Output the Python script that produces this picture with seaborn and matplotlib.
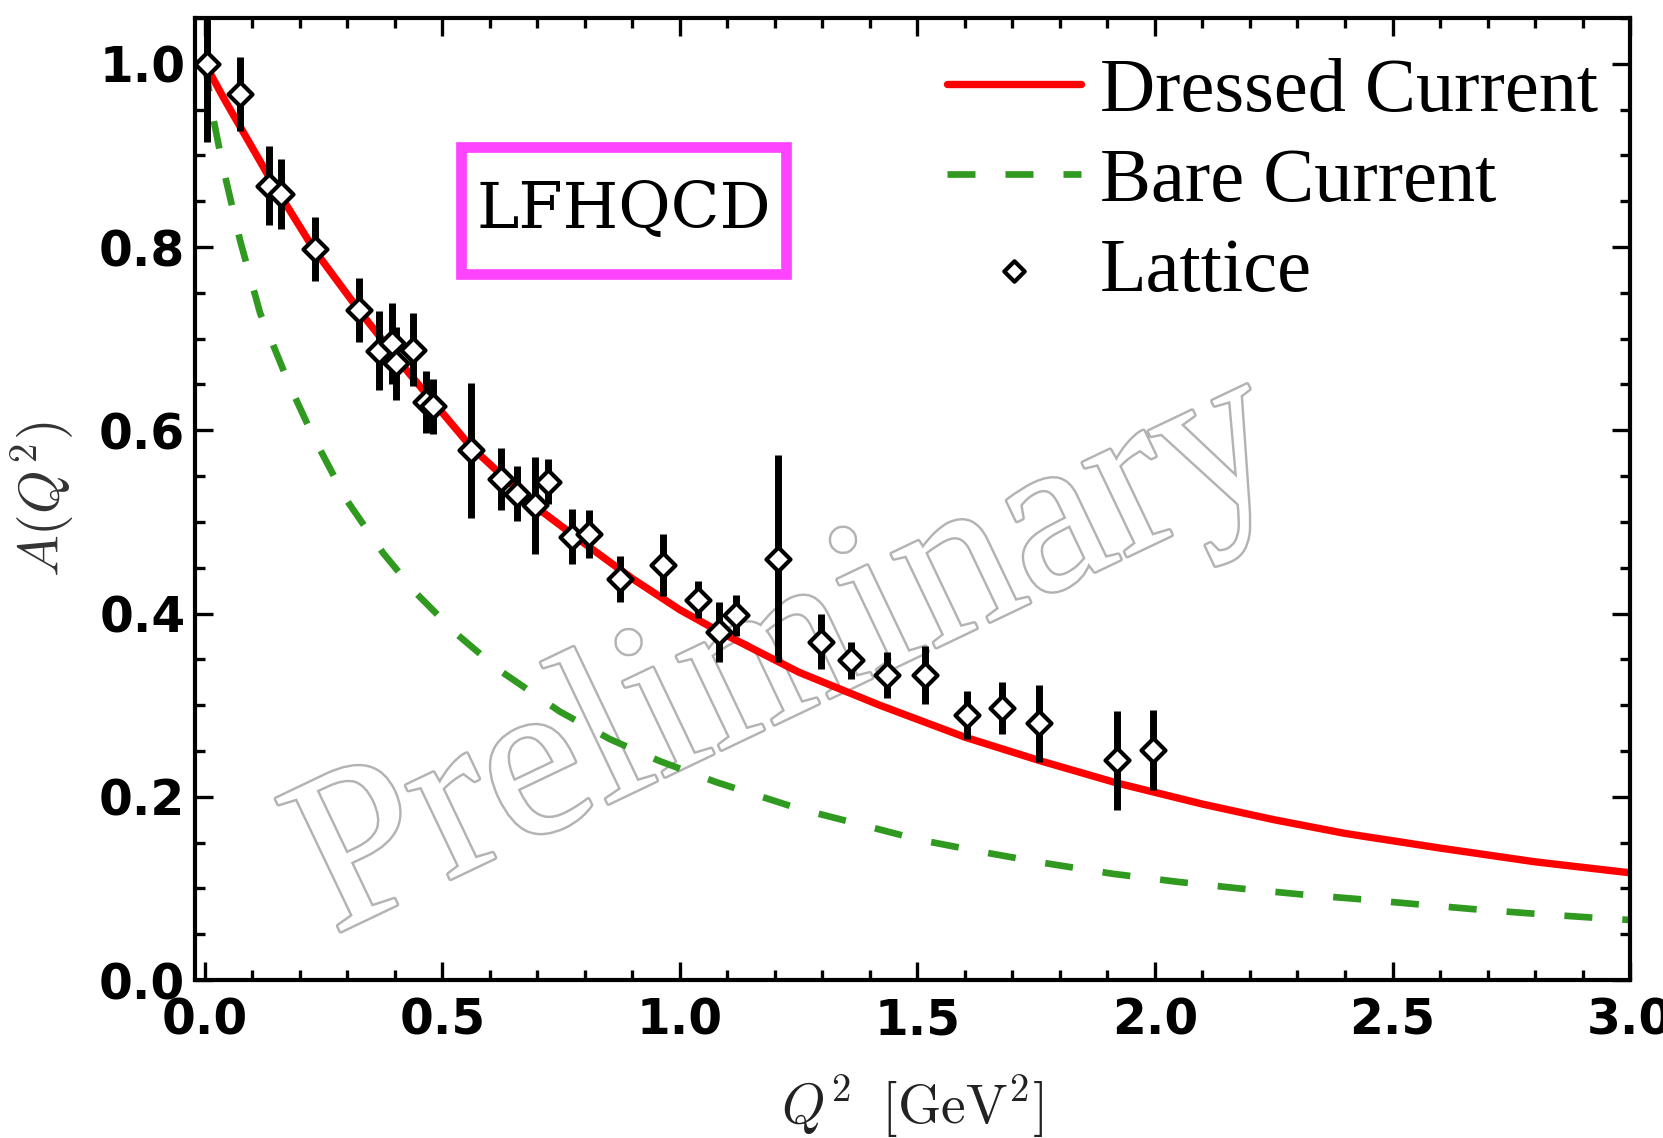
import matplotlib
matplotlib.use("Agg")
import matplotlib.pyplot as plt
import matplotlib.patheffects as pe
from matplotlib.patches import Rectangle
from matplotlib.ticker import MultipleLocator, FormatStrFormatter
import numpy as np
import pandas as pd
import seaborn as sns

# ---------------- data ----------------
dressed_q2 = [0.0, 0.04, 0.09, 0.14, 0.23, 0.33, 0.43, 0.56, 0.70, 0.80, 0.90, 1.00,
              1.08, 1.25, 1.42, 1.60, 1.76, 1.92, 2.10, 2.25, 2.40, 2.60, 2.80, 3.00]
dressed_a = [1.0, 0.962, 0.917, 0.872, 0.797, 0.727, 0.662, 0.582, 0.515, 0.476, 0.438,
             0.404, 0.381, 0.336, 0.300, 0.265, 0.239, 0.215, 0.192, 0.175, 0.160,
             0.144, 0.129, 0.117]

bare_q2 = [0.0, 0.017, 0.038, 0.074, 0.116, 0.179, 0.228, 0.298, 0.375, 0.445, 0.529,
           0.620, 0.747, 0.852, 0.957, 1.076, 1.250, 1.363, 1.504, 1.644, 1.763, 1.910,
           2.050, 2.177, 2.306, 2.436, 2.556, 2.667, 2.787, 2.909, 3.0]
bare_a = [1.0, 0.942, 0.887, 0.807, 0.728, 0.648, 0.593, 0.524, 0.466, 0.422, 0.378,
          0.338, 0.293, 0.263, 0.239, 0.216, 0.187, 0.172, 0.153, 0.139, 0.128, 0.116,
          0.107, 0.100, 0.0935, 0.088, 0.0825, 0.0775, 0.0728, 0.0685, 0.0655]

lattice_q2 = [0.005, 0.074, 0.135, 0.161, 0.231, 0.324, 0.367, 0.393, 0.403, 0.438,
              0.465, 0.481, 0.561, 0.624, 0.656, 0.694, 0.722, 0.773, 0.808, 0.873,
              0.964, 1.037, 1.083, 1.118, 1.206, 1.297, 1.360, 1.435, 1.516, 1.605,
              1.677, 1.756, 1.921, 1.996]
lattice_a = [1.0, 0.967, 0.867, 0.858, 0.798, 0.731, 0.687, 0.695, 0.673, 0.688,
             0.631, 0.626, 0.578, 0.547, 0.531, 0.518, 0.544, 0.484, 0.487, 0.438,
             0.453, 0.415, 0.380, 0.398, 0.460, 0.369, 0.349, 0.333, 0.333, 0.289,
             0.297, 0.280, 0.240, 0.251]
lattice_err = [0.085, 0.040, 0.043, 0.038, 0.035, 0.035, 0.043, 0.044, 0.040, 0.040,
               0.034, 0.030, 0.074, 0.034, 0.030, 0.053, 0.025, 0.030, 0.026, 0.025,
               0.034, 0.020, 0.033, 0.022, 0.113, 0.030, 0.020, 0.025, 0.032, 0.026,
               0.028, 0.042, 0.054, 0.044]

x_ticks = [0.0, 0.5, 1.0, 1.5, 2.0, 2.5, 3.0]
y_ticks = [0.0, 0.2, 0.4, 0.6, 0.8, 1.0]

# ---------------- style ----------------
sns.set_style("ticks")
plt.rcParams["mathtext.fontset"] = "cm"
plt.rcParams["font.family"] = ["DejaVu Sans"]
plt.rcParams["text.color"] = "black"
plt.rcParams["axes.labelcolor"] = "black"
plt.rcParams["xtick.color"] = "black"
plt.rcParams["ytick.color"] = "black"
plt.rcParams["xtick.labelcolor"] = "black"
plt.rcParams["ytick.labelcolor"] = "black"

RED = "#ff0000"
GREEN = "#2f9a1f"
MAGENTA = "#ff44ff"

fig = plt.figure(figsize=(16.63, 11.38), dpi=100)
ax = fig.add_axes([0.11726, 0.13884, 0.86290, 0.84534])

dressed_df = pd.DataFrame({"q2": dressed_q2, "a": dressed_a})
bare_df = pd.DataFrame({"q2": bare_q2, "a": bare_a})
lat_df = pd.DataFrame({"q2": lattice_q2, "a": lattice_a, "err": lattice_err})

sns.lineplot(data=bare_df, x="q2", y="a", ax=ax, color=GREEN, linewidth=4.8,
             label="Bare Current", zorder=2, sort=False)
bare_line = ax.lines[-1]
bare_line.set_linestyle((0, (4.2, 4.5)))

sns.lineplot(data=dressed_df, x="q2", y="a", ax=ax, color=RED, linewidth=5.3,
             label="Dressed Current", zorder=2.1, sort=False)
dressed_line = ax.lines[-1]
dressed_line.set_solid_joinstyle("round")

ax.errorbar(lat_df["q2"], lat_df["a"], yerr=lat_df["err"], fmt="none",
            ecolor="black", elinewidth=5, capsize=0, zorder=3)
sns.scatterplot(data=lat_df, x="q2", y="a", ax=ax, marker="D", s=150,
                facecolor="white", edgecolor="black", linewidth=3,
                label="Lattice", zorder=4)
lat_pts = ax.collections[-1]

# watermark
ax.text(1.231, 0.352, "Preliminary", fontsize=162, family="Liberation Serif",
        rotation=25.5, rotation_mode="anchor", ha="center", va="center",
        color="white", zorder=1,
        path_effects=[pe.Stroke(linewidth=3.5, foreground="#b3b3b3"), pe.Normal()])

# LFHQCD box
ax.add_patch(Rectangle((0.1856, 0.7339), 0.4121 - 0.1856, 0.8659 - 0.7339,
                       transform=ax.transAxes, fill=False, edgecolor=MAGENTA,
                       linewidth=7.7, zorder=6))
ax.text(0.2988, 0.800, "LFHQCD", transform=ax.transAxes, fontsize=46,
        family="DejaVu Serif", color="black", ha="center", va="center", zorder=7)

# axes
ax.set_xlim(-0.021, 3.0)
ax.set_ylim(0.0, 1.05)
ax.set_xticks(x_ticks)
ax.set_yticks(y_ticks)
ax.xaxis.set_minor_locator(MultipleLocator(0.1))
ax.yaxis.set_minor_locator(MultipleLocator(0.05))
ax.xaxis.set_major_formatter(FormatStrFormatter("%.1f"))
ax.yaxis.set_major_formatter(FormatStrFormatter("%.1f"))
ax.tick_params(which="both", direction="in", top=True, right=True,
               color="black", labelcolor="black")
ax.tick_params(which="major", length=13, width=2.4)
ax.tick_params(which="minor", length=7, width=2.4)
ax.tick_params(axis="x", which="major", pad=12, labelsize=35)
ax.tick_params(axis="y", which="major", pad=7, labelsize=35)
for lab in ax.get_xticklabels() + ax.get_yticklabels():
    lab.set_fontweight("bold")
for sp in ax.spines.values():
    sp.set_linewidth(3)
    sp.set_color("black")

ax.set_xlabel(r"$Q^2\;\;[\mathrm{GeV}^2]$", fontsize=40, color="#222222")
ax.set_ylabel(r"$A(Q^2)$", fontsize=40, color="#333333")
ax.xaxis.set_label_coords(0.5, -0.097)
ax.yaxis.set_label_coords(-0.0824, 0.5)

leg = ax.legend(handles=[dressed_line, bare_line, lat_pts],
                labels=["Dressed Current", "Bare Current", "Lattice"],
                loc="upper left", bbox_to_anchor=(0.524, 0.959),
                frameon=False, borderpad=0, borderaxespad=0,
                handlelength=1.75, handletextpad=0.25, labelspacing=0.27,
                markerscale=0.85, labelcolor="black",
                prop={"family": "Liberation Serif", "size": 55})
leg.set_zorder(8)

fig.savefig("out.png", dpi=100)
